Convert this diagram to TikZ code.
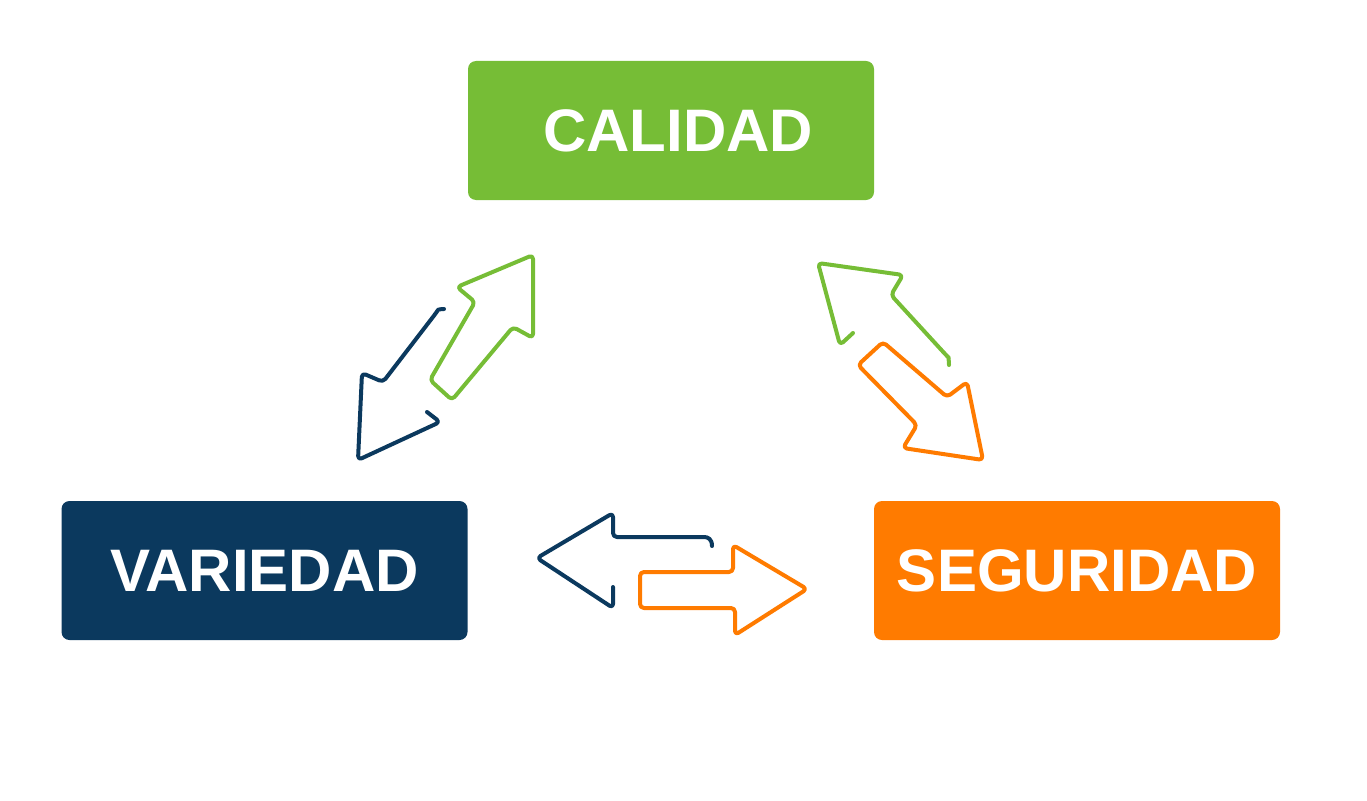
\documentclass[tikz,border=0pt]{standalone}
\usepackage{fontspec}
\setmainfont{Liberation Sans}
\definecolor{cgreen}{HTML}{76BD36}
\definecolor{cblue}{HTML}{0B395E}
\definecolor{corange}{HTML}{FF7B00}
\begin{document}
\begin{tikzpicture}[x=1pt,y=-1pt,
  box/.style={rounded corners=8pt, minimum width=406pt, minimum height=139pt, inner sep=0pt,
    text=white, font=\fontsize{60}{60}\selectfont\bfseries},
  outl/.style={line width=4pt, rounded corners=4pt, line cap=round, line join=round}]
\useasboundingbox (0,0) rectangle (1367,800);
\node[box, fill=cgreen] (cal) at (671,130.5) {\hspace*{14pt}CALIDAD};
\node[box, fill=cblue] (var) at (264.5,570.5) {VARIEDAD};
\node[box, fill=corange] (seg) at (1077,570.5) {SEGURIDAD};
% horizontal pair
\draw[outl, cblue] (712,546) .. controls (712,539) and (708,537) .. (700,537) -- (613,537) -- (613,513) -- (537,558) -- (613,608) -- (613,587);
\draw[outl, corange] (640,572) -- (733,572) -- (733,545) -- (807,589) -- (735,635) -- (735,608) -- (640,608) -- cycle;
% left pair
\draw[outl, cgreen] (533,255) -- (457,287) -- (475,302) -- (430,380) -- (452,400) -- (513,327) -- (533,338) -- cycle;
\draw[outl, cblue] (444,309) .. controls (440,309) and (438,310) .. (436,313) -- (383,382) -- (362,373) -- (358,460) -- (440,422) -- (427,412);
% right pair
\draw[outl, cgreen] (949,365) .. controls (949,360) and (948,357) .. (946,355) -- (891,295) -- (903,275) -- (818,263) -- (840,345) -- (853,333);
\draw[outl, corange] (983,460) -- (967,382) -- (947,397) -- (883,342) -- (858,365) -- (917,425) -- (903,448) -- cycle;
\end{tikzpicture}
\end{document}
